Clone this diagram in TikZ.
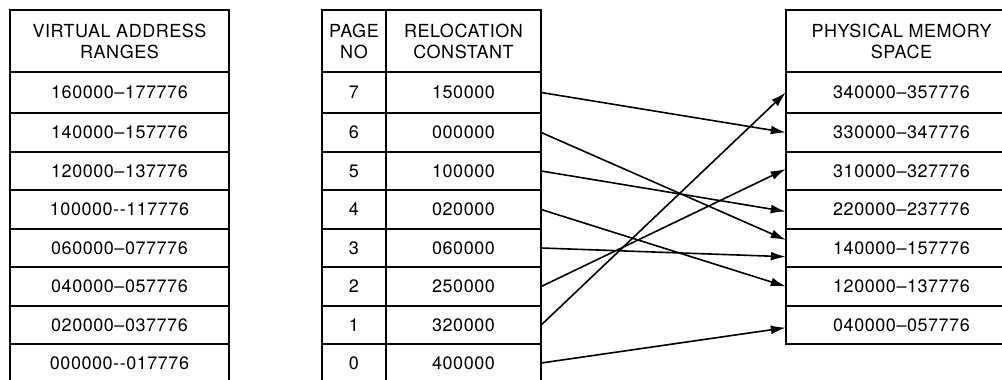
\documentclass[tikz,border=0pt]{standalone}
\usepackage{fontspec}
\setmainfont[LetterSpace=3]{TeX Gyre Heros}
\usetikzlibrary{arrows.meta,calc}
\begin{document}
\begin{tikzpicture}[x=1pt,y=-1pt,
  font=\fontsize{18}{21}\selectfont,
  cell/.style={inner sep=0pt,minimum height=38pt,align=center},
  outerline/.style={line width=2.2pt,line join=miter},
  innerline/.style={line width=1.5pt},
  arr/.style={line width=1.6pt,-{Latex[length=15pt,width=9pt]}}]
\useasboundingbox (0,0) rectangle (1002,380);
\clip (0,0) rectangle (1002,380);
% ---------- left table ----------
\draw[outerline] (10,384) -- (10,10) -- (229,10) -- (229,384);
\foreach \yy in {72,113,152,190,229,267,306,344}
  \draw[innerline] (10,\yy) -- (229,\yy);
\node[cell,minimum width=219pt,minimum height=62pt] (vh) at (119.5,41) {VIRTUAL ADDRESS\\RANGES};
\node[cell,minimum width=219pt] (v7) at (119.5,92.5) {160000--177776};
\node[cell,minimum width=219pt] (v6) at (119.5,132.5) {140000--157776};
\node[cell,minimum width=219pt] (v5) at (119.5,171) {120000--137776};
\node[cell,minimum width=219pt] (v4) at (119.5,209.5) {100000-{}-117776};
\node[cell,minimum width=219pt] (v3) at (119.5,248) {060000--077776};
\node[cell,minimum width=219pt] (v2) at (119.5,286.5) {040000--057776};
\node[cell,minimum width=219pt] (v1) at (119.5,325) {020000--037776};
\node[cell,minimum width=219pt] (v0) at (119.5,363) {000000-{}-017776};
% ---------- middle table ----------
\draw[outerline] (322,384) -- (322,10) -- (541,10) -- (541,384);
\draw[innerline] (386,10) -- (386,384);
\foreach \yy in {72,113,152,190,229,267,306,344}
  \draw[innerline] (322,\yy) -- (541,\yy);
\node[cell,minimum width=64pt,minimum height=62pt] (ph) at (354,41) {PAGE\\NO};
\node[cell,minimum width=155pt,minimum height=62pt] (rh) at (463.5,41) {RELOCATION\\CONSTANT};
\foreach \n/\yy in {7/92.5,6/132.5,5/171,4/209.5,3/248,2/286.5,1/325,0/363}
  \node[cell,minimum width=64pt] (pg\n) at (354,\yy) {\n};
\node[cell,minimum width=155pt] (rc7) at (463.5,92.5) {150000};
\node[cell,minimum width=155pt] (rc6) at (463.5,132.5) {000000};
\node[cell,minimum width=155pt] (rc5) at (463.5,171) {100000};
\node[cell,minimum width=155pt] (rc4) at (463.5,209.5) {020000};
\node[cell,minimum width=155pt] (rc3) at (463.5,248) {060000};
\node[cell,minimum width=155pt] (rc2) at (463.5,286.5) {250000};
\node[cell,minimum width=155pt] (rc1) at (463.5,325) {320000};
\node[cell,minimum width=155pt] (rc0) at (463.5,363) {400000};
% ---------- right table ----------
\draw[outerline] (1017,10) -- (786,10) -- (786,344) -- (1017,344);
\foreach \yy in {72,113,152,190,229,267,306}
  \draw[innerline] (786,\yy) -- (1017,\yy);
\node[cell,minimum width=231pt,minimum height=62pt] (mh) at (901.5,41) {PHYSICAL MEMORY\\SPACE};
\node[cell,minimum width=231pt] (p340) at (901.5,92.5) {340000--357776};
\node[cell,minimum width=231pt] (p330) at (901.5,132.5) {330000--347776};
\node[cell,minimum width=231pt] (p310) at (901.5,171) {310000--327776};
\node[cell,minimum width=231pt] (p220) at (901.5,209.5) {220000--237776};
\node[cell,minimum width=231pt] (p140) at (901.5,248) {140000--157776};
\node[cell,minimum width=231pt] (p120) at (901.5,286.5) {120000--137776};
\node[cell,minimum width=231pt] (p040) at (901.5,325) {040000--057776};
% ---------- mapping arrows ----------
\draw[arr] (rc7.east) -- (p330.west);
\draw[arr] (rc6.east) -- ([yshift=8pt]p140.west);
\draw[arr] (rc5.east) -- ([yshift=-2pt]p220.west);
\draw[arr] (rc4.east) -- (p120.west);
\draw[arr] (rc3.east) -- ([yshift=-8.7pt]p140.west);
\draw[arr] (rc2.east) -- ([yshift=2pt]p310.west);
\draw[arr] (rc1.east) -- (p340.west);
\draw[arr] (rc0.east) -- ([yshift=-2.7pt]p040.west);
\end{tikzpicture}
\end{document}
